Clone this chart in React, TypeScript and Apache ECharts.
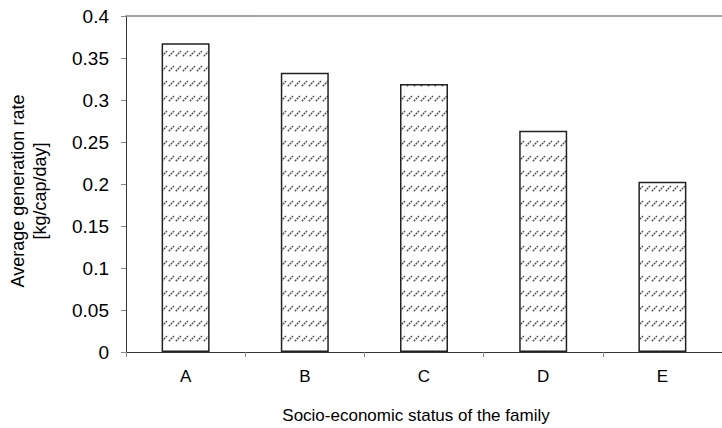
import React, { useEffect, useRef } from "react";
import * as echarts from "echarts";

const categories = ["A", "B", "C", "D", "E"];
const values = [0.3675, 0.3325, 0.319, 0.2635, 0.2027];
const yTicks = { min: 0, max: 0.4, interval: 0.05 };
const xTitle = "Socio-economic status of the family";
const yTitleLines = ["Average generation rate", "[kg/cap/day]"];

function makePattern(): HTMLCanvasElement {
  const c = document.createElement("canvas");
  c.width = 7;
  c.height = 15;
  const ctx = c.getContext("2d")!;
  ctx.fillStyle = "#ffffff";
  ctx.fillRect(0, 0, 7, 15);
  ctx.strokeStyle = "#555555";
  ctx.lineWidth = 1.5;
  ctx.setLineDash([2, 0.8]);
  ctx.beginPath();
  ctx.moveTo(0.8, 11.2);
  ctx.lineTo(6, 6);
  ctx.stroke();
  return c;
}

export default function App() {
  const ref = useRef<HTMLDivElement>(null);
  useEffect(() => {
    if (!ref.current) return;
    const chart = echarts.init(ref.current, null, { renderer: "svg" });
    const pat = makePattern();
    const font = "'Liberation Sans', Arial, sans-serif";
    chart.setOption({
      animation: false,
      backgroundColor: "#ffffff",
      grid: { left: 126, right: -9, top: 16, bottom: 76 },
      xAxis: [
        {
          type: "category",
          data: categories,
          position: "bottom",
          boundaryGap: true,
          axisLine: { show: true, lineStyle: { color: "#333", width: 1 } },
          axisTick: { show: true, length: 5, inside: false, lineStyle: { color: "#888" } },
          axisLabel: { color: "#000", fontSize: 17, fontFamily: font, margin: 16 },
          splitLine: { show: false },
        },
        {
          type: "category",
          data: categories,
          position: "top",
          axisLine: { show: true, lineStyle: { color: "#888", width: 1.5 } },
          axisTick: { show: false },
          axisLabel: { show: false },
          splitLine: { show: false },
        },
      ],
      yAxis: {
        type: "value",
        min: yTicks.min,
        max: yTicks.max,
        interval: yTicks.interval,
        axisLine: { show: true, lineStyle: { color: "#333", width: 1 } },
        axisTick: { show: true, length: 5, lineStyle: { color: "#888" } },
        axisLabel: {
          color: "#000",
          fontSize: 19,
          fontFamily: font,
          margin: 17,
          formatter: (v: number) => String(+v.toFixed(2)),
        },
        splitLine: { show: false },
      },
      series: [
        {
          type: "bar",
          data: values,
          xAxisIndex: 0,
          barWidth: 48,
          itemStyle: {
            color: { image: pat, repeat: "repeat", imageWidth: 7, imageHeight: 15 } as any,
            borderColor: "#222",
            borderWidth: 1.5,
          },
        },
      ],
      graphic: [
        {
          type: "text",
          x: 416,
          y: 415,
          style: {
            text: xTitle,
            fontSize: 17,
            fontFamily: font,
            fill: "#000",
            align: "center",
            verticalAlign: "middle",
          },
        },
        {
          type: "text",
          x: 29,
          y: 191,
          rotation: Math.PI / 2,
          style: {
            text: yTitleLines.join("\n"),
            fontSize: 18,
            lineHeight: 22,
            fontFamily: font,
            fill: "#000",
            align: "center",
            verticalAlign: "middle",
          },
        },
      ],
    });
    return () => chart.dispose();
  }, []);
  return (
    <div
      ref={ref}
      style={{ position: "fixed", left: 0, top: 0, width: 722, height: 428 }}
    />
  );
}
